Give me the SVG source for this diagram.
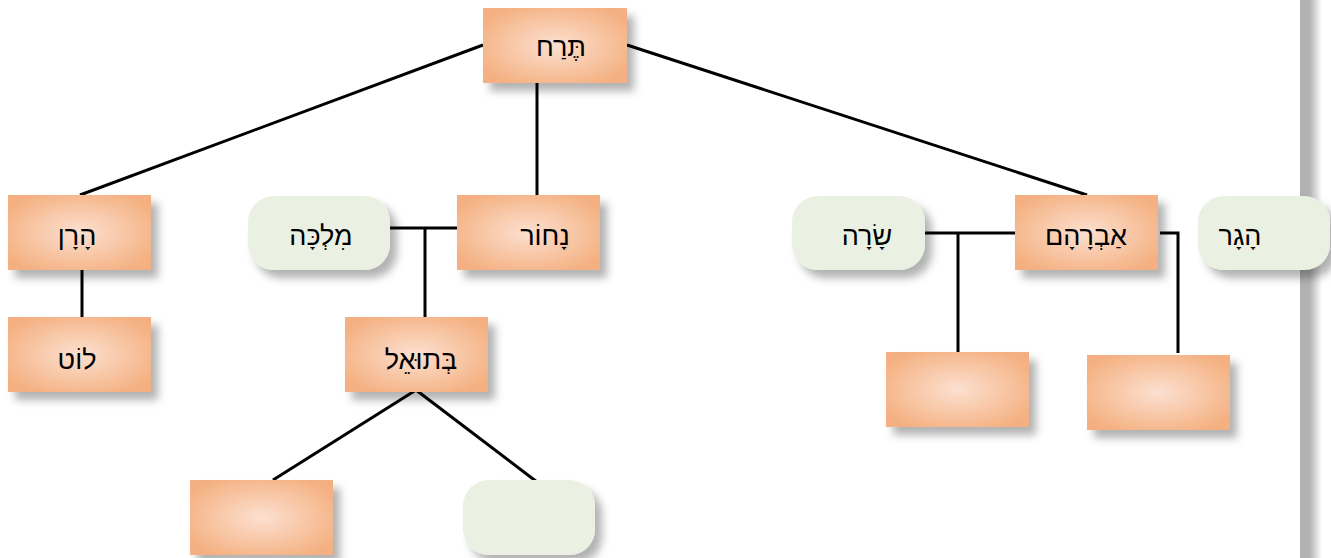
<svg xmlns="http://www.w3.org/2000/svg" width="1331" height="558" viewBox="0 0 1331 558">
<defs>
<radialGradient id="og" cx="50%" cy="50%" r="60%">
<stop offset="0" stop-color="#FCE0D0"/>
<stop offset="1" stop-color="#F4B080"/>
</radialGradient>
<linearGradient id="bar" x1="0" x2="1" y1="0" y2="0">
<stop offset="0" stop-color="#B0B0B0"/>
<stop offset="0.45" stop-color="#B4B4B4"/>
<stop offset="1" stop-color="#FFFFFF"/>
</linearGradient>
<filter id="sh" x="-20%" y="-20%" width="150%" height="160%">
<feDropShadow dx="7" dy="8" stdDeviation="4" flood-color="#000" flood-opacity="0.3"/>
</filter>
</defs>
<style>
.o{fill:url(#og);filter:url(#sh)}
.g{fill:#EAF0E2;filter:url(#sh)}
.t{font-family:"Liberation Sans","DejaVu Sans",sans-serif;font-size:27px;fill:#000;text-anchor:middle;direction:rtl}
.c{stroke:#000;stroke-width:3;fill:none}
</style>
<rect x="1300" y="0" width="22" height="558" fill="url(#bar)"/>
<g id="connectors">
<line class="c" x1="483" y1="45" x2="80" y2="195"/>
<line class="c" x1="537" y1="83" x2="537" y2="195"/>
<line class="c" x1="627" y1="45" x2="1087" y2="195"/>
<line class="c" x1="82" y1="270" x2="82" y2="317"/>
<line class="c" x1="390" y1="228" x2="457" y2="228"/>
<line class="c" x1="425" y1="228" x2="425" y2="317"/>
<line class="c" x1="416" y1="390" x2="273" y2="480"/>
<line class="c" x1="416" y1="390" x2="537" y2="482"/>
<line class="c" x1="925" y1="233" x2="1015" y2="233"/>
<line class="c" x1="958" y1="233" x2="958" y2="352"/>
<polyline class="c" points="1160,233 1178,233 1178,353"/>
</g>
<g id="terah"><rect class="o" x="483" y="8" width="144" height="75"/><text class="t" x="561" y="56">תֶּרַח</text></g>
<g id="haran"><rect class="o" x="8" y="195" width="143" height="75"/><text class="t" x="77" y="245">הָרָן</text></g>
<g id="lot"><rect class="o" x="8" y="317" width="143" height="75"/><text class="t" x="77" y="369">לוֹט</text></g>
<g id="milka"><rect class="g" x="248" y="196" width="142" height="74" rx="26"/><text class="t" x="321" y="245">מִלְכָּה</text></g>
<g id="nahor"><rect class="o" x="457" y="195" width="143" height="75"/><text class="t" x="545" y="245">נָחוֹר</text></g>
<g id="betuel"><rect class="o" x="345" y="317" width="143" height="75"/><text class="t" x="421" y="369">בְּתוּאֵל</text></g>
<g id="empty1"><rect class="o" x="190" y="480" width="143" height="75"/></g>
<g id="empty2"><rect class="g" x="463" y="480" width="132" height="75" rx="26"/></g>
<g id="sarah"><rect class="g" x="792" y="196" width="133" height="74" rx="26"/><text class="t" x="867" y="245">שָׂרָה</text></g>
<g id="avraham"><rect class="o" x="1015" y="195" width="143" height="75"/><text class="t" x="1086" y="245">אַבְרָהָם</text></g>
<g id="hagar"><rect class="g" x="1198" y="196" width="132" height="74" rx="26"/><text class="t" x="1240" y="245">הָגָר</text></g>
<g id="empty3"><rect class="o" x="886" y="352" width="143" height="75"/></g>
<g id="empty4"><rect class="o" x="1087" y="355" width="143" height="75"/></g>
</svg>
